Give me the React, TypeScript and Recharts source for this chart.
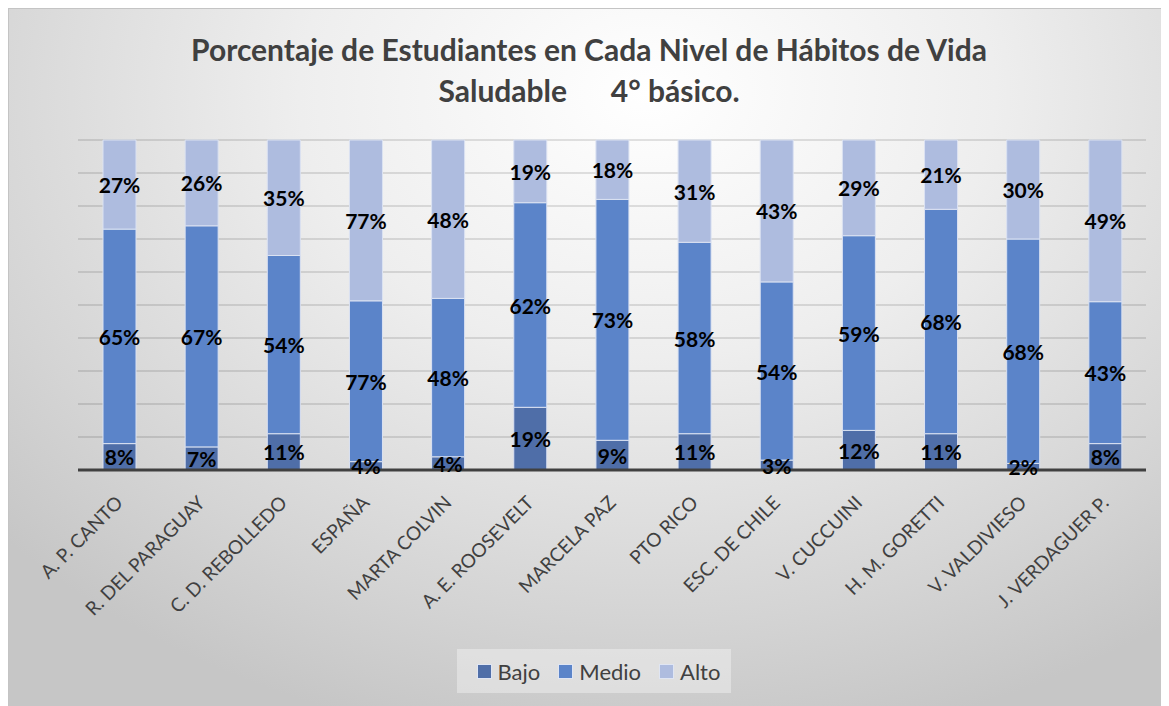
import { Bar, BarChart, CartesianGrid, Legend, XAxis, YAxis } from "recharts";

const categories = [
  "A. P. CANTO",
  "R. DEL PARAGUAY",
  "C. D. REBOLLEDO",
  "ESPAÑA",
  "MARTA COLVIN",
  "A. E. ROOSEVELT",
  "MARCELA PAZ",
  "PTO RICO",
  "ESC. DE CHILE",
  "V. CUCCUINI",
  "H. M. GORETTI",
  "V. VALDIVIESO",
  "J. VERDAGUER P.",
];
const bajo = [8, 7, 11, 4, 4, 19, 9, 11, 3, 12, 11, 2, 8];
const medio = [65, 67, 54, 77, 48, 62, 73, 58, 54, 59, 68, 68, 43];
const alto = [27, 26, 35, 77, 48, 19, 18, 31, 43, 29, 21, 30, 49];
const gridTicks = [0, 0.1, 0.2, 0.3, 0.4, 0.5, 0.6, 0.7, 0.8, 0.9, 1];

const series = [
  { key: "Bajo", values: bajo, color: "#4f6ea8" },
  { key: "Medio", values: medio, color: "#5b84c9" },
  { key: "Alto", values: alto, color: "#aebcdf" },
];

const data = categories.map((name, i) => ({
  name,
  Bajo: bajo[i],
  Medio: medio[i],
  Alto: alto[i],
}));

const FONT = "Lato, 'Open Sans', sans-serif";

function AxisTick(props: any) {
  const { x, y, payload } = props;
  const ax = x + 5;
  const ay = y + 26;
  return (
    <text
      x={ax}
      y={ay}
      transform={`rotate(-45, ${ax}, ${ay})`}
      textAnchor="end"
      fill="#404040"
      fontSize={19}
      fontFamily={FONT}
    >
      {payload.value}
    </text>
  );
}

function makeLabel(values: number[]) {
  return (props: any) => {
    const { x, y, width, height, index } = props;
    return (
      <text
        x={x + width / 2}
        y={y + height / 2}
        textAnchor="middle"
        dominantBaseline="central"
        fill="#000"
        fontSize={21}
        fontWeight={700}
        fontFamily={FONT}
      >
        {values[index]}%
      </text>
    );
  };
}

function LegendBox() {
  return (
    <div style={{ display: "flex", justifyContent: "center" }}>
      <div
        style={{
          display: "flex",
          alignItems: "center",
          gap: 18,
          padding: "0 11px 0 20px",
          height: 44,
          marginLeft: 10,
          background: "rgba(255,255,255,0.35)",
          fontFamily: FONT,
          fontSize: 22,
          color: "#404040",
        }}
      >
        {series.map((s) => (
          <div key={s.key} style={{ display: "flex", alignItems: "center", gap: 6 }}>
            <span
              style={{
                display: "inline-block",
                width: 13,
                height: 13,
                background: s.color,
                border: "1px solid #dfe5f3",
              }}
            />
            <span>{s.key}</span>
          </div>
        ))}
      </div>
    </div>
  );
}

export default function App() {
  return (
    <div
      style={{
        position: "relative",
        width: 1160,
        height: 697,
        border: "1px solid #c4c4c4",
        background:
          "radial-gradient(ellipse 75% 95% at 55% 12%, #ffffff 0%, #eeeeee 40%, #d4d4d4 80%, #c6c6c6 100%)",
      }}
    >
      <div
        style={{
          position: "absolute",
          top: 20,
          left: 0,
          width: 1160,
          textAlign: "center",
          fontFamily: FONT,
          fontWeight: 700,
          fontSize: 30,
          lineHeight: "41px",
          color: "#404040",
          whiteSpace: "pre",
          zIndex: 2,
        }}
      >
        {"Porcentaje de Estudiantes en Cada Nivel de Hábitos de Vida\nSaludable      4° básico."}
      </div>
      <BarChart
        width={1160}
        height={697}
        data={data}
        stackOffset="expand"
        margin={{ top: 131, right: 23, left: 69, bottom: 0 }}
        barSize={33}
      >
        <CartesianGrid vertical={false} stroke="#000" strokeOpacity={0.22} />
        <YAxis hide domain={[0, 1]} ticks={gridTicks} />
        <XAxis
          dataKey="name"
          height={236}
          interval={0}
          tickLine={false}
          axisLine={{ stroke: "#404040", strokeWidth: 3 }}
          tick={<AxisTick />}
        />
        <Legend
          layout="horizontal"
          verticalAlign="middle"
          align="center"
          wrapperStyle={{ top: 640, left: 0, width: 1160 }}
          content={<LegendBox />}
        />
        {series.map((s) => (
          <Bar
            key={s.key}
            dataKey={s.key}
            stackId="a"
            fill={s.color}
            stroke="#dbe2f2"
            strokeWidth={1}
            isAnimationActive={false}
            label={makeLabel(s.values)}
          />
        ))}
      </BarChart>
    </div>
  );
}
